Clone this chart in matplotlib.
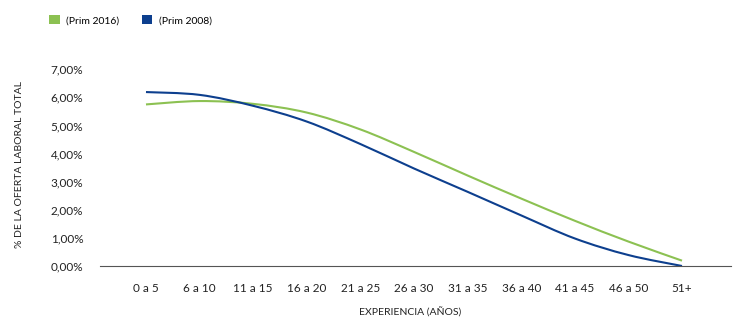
import matplotlib
matplotlib.use("Agg")
import matplotlib.pyplot as plt
from matplotlib.path import Path
from matplotlib.patches import PathPatch, Patch
from matplotlib.ticker import FuncFormatter
import numpy as np

categories = ["0 a 5", "6 a 10", "11 a 15", "16 a 20", "21 a 25", "26 a 30",
              "31 a 35", "36 a 40", "41 a 45", "46 a 50", "51+"]
prim_2016 = [5.75, 5.87, 5.77, 5.46, 4.86, 4.06, 3.22, 2.40, 1.61, 0.87, 0.19]
prim_2008 = [6.19, 6.09, 5.70, 5.14, 4.34, 3.47, 2.64, 1.80, 0.98, 0.39, 0.00]
series_names = ["(Prim 2016)", "(Prim 2008)"]
colors = ["#8cc152", "#0d3f8e"]

plt.rcParams['font.family'] = ['Lato', 'DejaVu Sans']

fig = plt.figure(figsize=(7.51, 3.30), dpi=100)
ax = fig.add_axes([100/751, 1-266/330, 631/751, (266-69.3)/330])

def smooth_path(xs, ys, t=1/6):
    xs = np.asarray(xs, float); ys = np.asarray(ys, float)
    verts = [(xs[0], ys[0])]
    codes = [Path.MOVETO]
    n = len(xs)
    for i in range(n-1):
        p0 = (xs[max(i-1, 0)], ys[max(i-1, 0)])
        p1 = (xs[i], ys[i]); p2 = (xs[i+1], ys[i+1])
        p3 = (xs[min(i+2, n-1)], ys[min(i+2, n-1)])
        c1 = (p1[0] + (p2[0]-p0[0])*t, p1[1] + (p2[1]-p0[1])*t)
        c2 = (p2[0] - (p3[0]-p1[0])*t, p2[1] - (p3[1]-p1[1])*t)
        verts += [c1, c2, p2]
        codes += [Path.CURVE4]*3
    return Path(verts, codes)

x = np.arange(len(categories))
for vals, col in zip([prim_2016, prim_2008], colors):
    ys = np.array(vals) / 100.0
    ax.add_patch(PathPatch(smooth_path(x, ys), facecolor='none', edgecolor=col, lw=1.5))

ax.set_xlim(-0.858, 10.914)
ax.set_ylim(0, 0.07)
ax.set_yticks(np.arange(0, 0.0701, 0.01))
ax.yaxis.set_major_formatter(FuncFormatter(lambda v, p: f"{v*100:.2f}%".replace('.', ',')))
ax.set_xticks(x)
ax.set_xticklabels(categories)
ax.tick_params(axis='both', length=0, labelsize=8.5, colors='#222222')
ax.tick_params(axis='x', pad=12)
ax.tick_params(axis='y', pad=12)
for s in ['top', 'right', 'left']:
    ax.spines[s].set_visible(False)
ax.spines['bottom'].set_color('#555555')
ax.spines['bottom'].set_linewidth(0.8)

fig.text(410/751, 1-312/330, "EXPERIENCIA (AÑOS)", ha='center', va='center', fontsize=7.5, color='#222222')
fig.text(20/751, 1-165/330, "% DE LA OFERTA LABORAL TOTAL", ha='center', va='center',
         rotation=90, fontsize=7.5, color='#222222')

handles = [Patch(facecolor=c, edgecolor='none') for c in colors]
fig.legend(handles, series_names, loc='center left', bbox_to_anchor=(40/751, 1-20/330),
           ncol=2, frameon=False, fontsize=7.5, handlelength=1.0, handleheight=1.0,
           handletextpad=0.6, columnspacing=2.2)

fig.savefig("out.png", dpi=100)
